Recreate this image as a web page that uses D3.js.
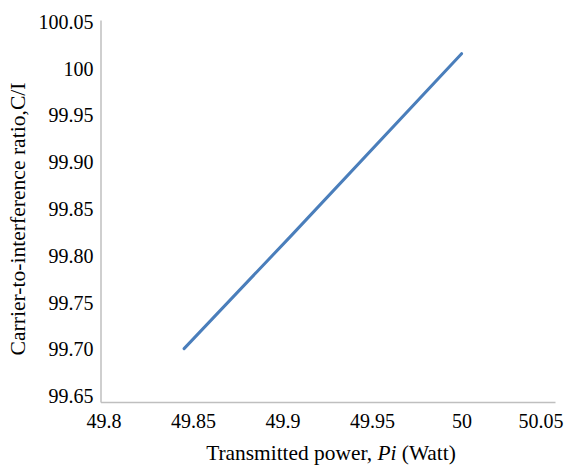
<!DOCTYPE html>
<html><head><meta charset="utf-8">
<script src="https://cdn.jsdelivr.net/npm/d3@7"></script>
<style>
body{margin:0;background:#fff;} svg{display:block;}
</style>
</head><body>
<svg id="c" width="571" height="466"></svg>
<script>
const xValues = [49.845, 49.905, 50.0];
const yValues = [99.701, 99.822, 100.016];
const xTicks = [49.8, 49.85, 49.9, 49.95, 50, 50.05];
const xTickLabels = ["49.8", "49.85", "49.9", "49.95", "50", "50.05"];
const yTicks = [99.65, 99.70, 99.75, 99.80, 99.85, 99.90, 99.95, 100, 100.05];
const yTickLabels = ["99.65", "99.70", "99.75", "99.80", "99.85", "99.90", "99.95", "100", "100.05"];

const svg = d3.select("#c");
const FONT = "Liberation Serif";
const x = d3.scaleLinear().domain([49.7983, 50.0522]).range([100.5, 555]);
const y = d3.scaleLinear().domain([99.644, 100.052]).range([402, 20]);

const gx = svg.append("g").attr("transform", "translate(0,402)")
  .call(d3.axisBottom(x).tickValues(xTicks).tickSize(0).tickPadding(12)
    .tickFormat((d,i) => xTickLabels[i]))
  .attr("font-family", FONT).attr("font-size", 20);
const gy = svg.append("g").attr("transform", "translate(100.5,0)")
  .call(d3.axisLeft(y).tickValues(yTicks).tickSize(0).tickPadding(7)
    .tickFormat((d,i) => yTickLabels[i]))
  .attr("font-family", FONT).attr("font-size", 20);
[gx, gy].forEach(g => {
  g.select(".domain").attr("stroke", "#bfbfbf").attr("stroke-width", 1.5);
  g.selectAll("text").attr("fill", "#000");
});
gx.selectAll(".tick:last-child text").attr("text-anchor", "end").attr("dx", 12);

const line = d3.line().x((d,i) => x(xValues[i])).y(d => y(d));
svg.append("path").datum(yValues).attr("d", line)
  .attr("fill", "none").attr("stroke", "#4a7ebb").attr("stroke-width", 3)
  .attr("stroke-linecap", "round").attr("stroke-linejoin", "round");

const xt = svg.append("text").attr("x", 331).attr("y", 460).attr("text-anchor", "middle")
  .attr("font-family", FONT).attr("font-size", 21.4);
xt.append("tspan").text("Transmitted power, ");
xt.append("tspan").attr("font-style", "italic").text("Pi");
xt.append("tspan").text(" (Watt)");

svg.append("text").attr("transform", "translate(25,219) rotate(-90)").attr("text-anchor", "middle")
  .attr("font-family", FONT).attr("font-size", 21.6)
  .text("Carrier-to-interference ratio,C/I");
</script>
</body></html>
